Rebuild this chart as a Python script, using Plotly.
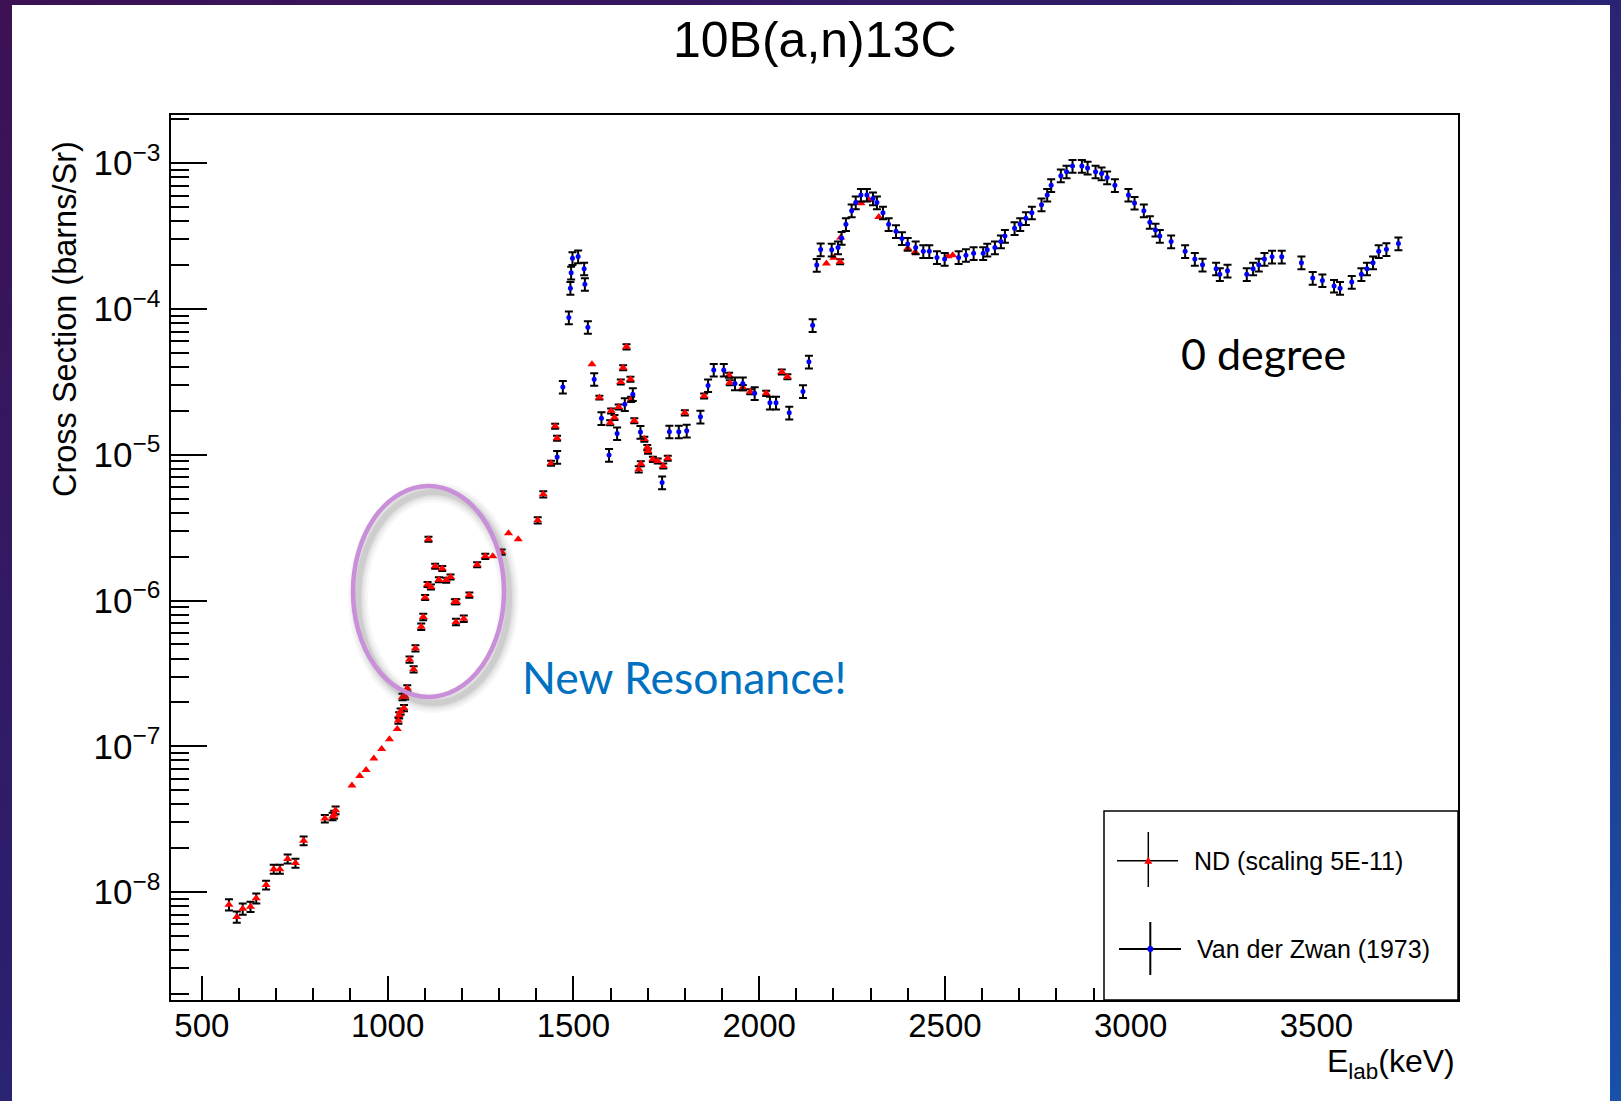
import base64
import numpy as np
import plotly.graph_objects as go

# ---------------------------------------------------------------------------
# 10B(a,n)13C, 0 degree cross section
# ---------------------------------------------------------------------------

# ND measurement (scaled by 5E-11): lab energy [keV], cross section [b/sr],
# relative uncertainty [%] (0 = error smaller than the marker)
nd_energy = [
    573, 594, 610, 631, 646.5, 673, 693.5, 710, 731, 752, 774,
    831, 852, 856, 860, 904, 925, 942, 963, 984, 1005, 1026,
    1029, 1031, 1035, 1044, 1040, 1047, 1053, 1059, 1070, 1075,
    1090.5, 1096, 1101, 1107.5, 1110, 1116.6, 1128, 1138, 1147,
    1157.7, 1169.4, 1181, 1185, 1184, 1205, 1220, 1241, 1263,
    1283, 1307, 1325.5, 1351.5, 1404, 1419, 1440, 1451, 1456,
    1550, 1570, 1599, 1601.6, 1610.6, 1622, 1627.6, 1634, 1643,
    1653.6, 1655.5, 1664, 1676, 1681.5, 1691, 1699, 1701, 1714,
    1727, 1742, 1754, 1800, 1852, 1919, 1921, 1956, 1976, 2019,
    2061, 2076, 2181, 2201, 2218, 2219.5, 2274, 2296, 2322, 2400,
    2420, 2508, 2521,
]
nd_xsec = [
    8.19e-9, 6.75e-9, 7.66e-9, 7.93e-9, 9.06e-9, 1.117e-8, 1.435e-8,
    1.435e-8, 1.687e-8, 1.58e-8, 2.25e-8,
    3.19e-8, 3.30e-8, 3.40e-8, 3.64e-8, 5.37e-8, 6.24e-8, 6.86e-8,
    8.24e-8, 9.58e-8, 1.117e-7, 1.312e-7,
    1.50e-7, 1.63e-7, 1.73e-7, 1.83e-7, 2.18e-7, 2.20e-7, 2.50e-7,
    3.93e-7, 3.37e-7, 4.70e-7,
    6.61e-7, 7.71e-7, 1.05e-6, 1.29e-6, 2.63e-6, 1.24e-6, 1.72e-6,
    1.39e-6, 1.66e-6,
    1.38e-6, 1.45e-6, 9.82e-7, 9.82e-7, 7.13e-7, 7.50e-7, 1.09e-6,
    1.76e-6, 2.01e-6,
    2.01e-6, 2.15e-6, 2.89e-6, 2.63e-6, 3.55e-6, 5.36e-6, 8.74e-6,
    1.57e-5, 1.30e-5,
    4.18e-5, 2.47e-5, 1.66e-5, 2.00e-5, 1.80e-5, 2.13e-5, 3.16e-5,
    3.96e-5, 5.50e-5,
    3.30e-5, 2.40e-5, 1.71e-5, 7.94e-6, 8.69e-6, 1.28e-5, 1.12e-5,
    1.06e-5, 9.30e-6,
    9.06e-6, 8.37e-6, 9.46e-6, 1.94e-5, 2.53e-5, 3.51e-5, 3.12e-5,
    2.89e-5, 2.71e-5, 2.64e-5,
    3.70e-5, 3.43e-5, 2.05e-4, 2.25e-4, 2.11e-4, 3.09e-4, 5.31e-4,
    5.60e-4, 4.28e-4, 2.61e-4,
    2.46e-4, 2.30e-4, 2.34e-4,
]
nd_err_pct = [
    9, 9, 9, 8, 8, 7, 7, 7, 7, 7, 7,
    6, 6, 6, 6, 0, 0, 0, 0, 0, 0, 0,
    5, 5, 5, 5, 5, 5, 5, 5, 5, 5,
    5, 5, 4, 4, 4, 4, 4, 4, 4,
    4, 4, 4, 4, 5, 5, 4, 4, 4,
    0, 4, 0, 0, 5, 5, 4, 4, 4,
    0, 3, 4, 4, 4, 4, 4, 4, 4,
    4, 4, 4, 5, 4, 4, 4, 4, 4,
    4, 4, 4, 4, 4, 4, 4, 4, 4, 4,
    4, 4, 0, 0, 4, 0, 0, 0, 0, 0,
    0, 0, 0,
]

# Van der Zwan (1973): lab energy [keV], cross section [b/sr]
vdz_energy = [
    1456.3, 1471.7, 1487.8, 1492, 1494, 1497.6, 1512.8, 1529, 1531,
    1539, 1556, 1575.6, 1596, 1617.7, 1638.4, 1660, 1680.5, 1738.8,
    1758.4, 1783.7, 1805, 1842, 1862.6, 1877.8, 1904.8, 1935, 1956,
    1988, 2029, 2045.5, 2081, 2118, 2134, 2144, 2155, 2165.6, 2195.3,
    2212.3, 2222, 2233.6, 2249, 2260, 2274, 2290, 2306.4, 2317,
    2333.3, 2348.6, 2368.3, 2384.4, 2399.8, 2421.3, 2441.8, 2458,
    2478.6, 2499.3, 2537, 2556.6, 2577.3, 2603, 2614, 2634.6, 2650.7,
    2661.5, 2687.5, 2702.7, 2718, 2734, 2760, 2775.3, 2786, 2812,
    2827.4, 2843.5, 2868.6, 2884, 2905.5, 2921.7, 2936.7, 2957.5,
    2994, 3010.4, 3035.4, 3051.6, 3066.8, 3078.4, 3108.9, 3146.6,
    3172.7, 3193.4, 3230, 3240, 3260.6, 3312.5, 3329.5, 3344.8, 3360,
    3380.5, 3406.6, 3459.6, 3490, 3516, 3547.4, 3563.5, 3595, 3621,
    3636, 3652.3, 3667.6, 3688.3, 3720.6,
]
vdz_xsec = [
    9.65e-6, 2.92e-5, 8.73e-5, 1.39e-4, 1.77e-4, 2.23e-4, 2.29e-4, 1.89e-4,
    1.48e-4,
    7.50e-5, 3.30e-5, 1.78e-5, 9.95e-6, 1.40e-5, 2.22e-5, 2.60e-5, 1.43e-5,
    6.44e-6,
    1.44e-5, 1.44e-5, 1.46e-5, 1.82e-5, 2.99e-5, 3.82e-5, 3.82e-5, 3.08e-5,
    3.08e-5,
    2.64e-5, 2.27e-5, 2.27e-5, 1.94e-5, 2.72e-5, 4.34e-5, 7.73e-5, 2.00e-4,
    2.56e-4, 2.55e-4,
    2.64e-4, 3.07e-4, 3.81e-4, 4.73e-4, 5.37e-4, 6.06e-4, 6.06e-4, 5.72e-4,
    5.37e-4,
    4.58e-4, 3.81e-4, 3.41e-4, 3.05e-4, 2.79e-4, 2.64e-4, 2.49e-4, 2.49e-4,
    2.26e-4, 2.20e-4, 2.26e-4, 2.34e-4, 2.41e-4, 2.41e-4, 2.55e-4, 2.64e-4,
    2.90e-4,
    3.17e-4, 3.58e-4, 3.81e-4, 4.19e-4, 4.58e-4, 5.20e-4, 6.06e-4, 7.06e-4,
    8.22e-4,
    8.75e-4, 9.58e-4, 9.58e-4, 9.29e-4, 8.75e-4, 8.49e-4, 7.97e-4, 7.06e-4,
    6.06e-4, 5.34e-4, 4.73e-4, 3.94e-4, 3.49e-4, 3.17e-4, 2.90e-4, 2.49e-4,
    2.20e-4, 2.01e-4, 1.89e-4, 1.73e-4, 1.83e-4, 1.73e-4, 1.89e-4, 2.01e-4,
    2.20e-4,
    2.28e-4, 2.28e-4, 2.08e-4, 1.63e-4, 1.57e-4, 1.44e-4, 1.39e-4, 1.53e-4,
    1.73e-4,
    1.89e-4, 2.08e-4, 2.49e-4, 2.57e-4, 2.81e-4,
]
vdz_err_pct = 10.0

x_ticks = [500, 1000, 1500, 2000, 2500, 3000, 3500]
x_range = [417, 3881]
y_log_range = [-8.741, -2.669]

# ---------------------------------------------------------------------------
# page geometry (pixels)
W, H = 1621, 1101
ML, MR, MT, MB = 171, 163, 115, 101
PW, PH = W - ML - MR, H - MT - MB


def fx(px):
    """page x pixel -> plot-area paper fraction"""
    return (px - ML) / PW


def fy(py):
    """page y pixel -> plot-area paper fraction"""
    return (MT + PH - py) / PH


HELV = "Liberation Sans, Arial, Helvetica, sans-serif"
SLIDE = "Lato, Carlito, Calibri, sans-serif"

nd_e = np.asarray(nd_energy, float)
nd_v = np.asarray(nd_xsec, float)
nd_p = np.asarray(nd_err_pct, float)
vdz_e = np.asarray(vdz_energy, float)
vdz_v = np.asarray(vdz_xsec, float)

fig = go.Figure()

err_style = dict(type="data", color="black", thickness=2, width=4)

# ND points: with and without visible uncertainty
has_err = nd_p > 0
fig.add_trace(go.Scatter(
    x=nd_e[has_err], y=nd_v[has_err], mode="markers",
    marker=dict(symbol="triangle-up", size=8, color="#ff0000"),
    error_y=dict(array=nd_v[has_err] * nd_p[has_err] / 100.0, **err_style),
    name="ND (scaling 5E-11)", showlegend=False,
))
fig.add_trace(go.Scatter(
    x=nd_e[~has_err], y=nd_v[~has_err], mode="markers",
    marker=dict(symbol="triangle-up", size=8, color="#ff0000"),
    name="ND (scaling 5E-11)", showlegend=False,
))
# Van der Zwan points
fig.add_trace(go.Scatter(
    x=vdz_e, y=vdz_v, mode="markers",
    marker=dict(symbol="circle", size=5, color="#0000ff"),
    error_y=dict(array=vdz_v * vdz_err_pct / 100.0, **err_style),
    name="Van der Zwan (1973)", showlegend=False,
))

# slide background gradient
svg = (
    f"<svg xmlns='http://www.w3.org/2000/svg' width='{W}' height='{H}'>"
    "<defs><linearGradient id='g' x1='0' y1='0' x2='1' y2='1'>"
    "<stop offset='0' stop-color='#3d1154'/>"
    "<stop offset='0.45' stop-color='#2c1f6e'/>"
    "<stop offset='1' stop-color='#1850aa'/>"
    "</linearGradient></defs>"
    f"<rect width='{W}' height='{H}' fill='url(#g)'/></svg>"
)
bg_src = "data:image/svg+xml;base64," + base64.b64encode(svg.encode()).decode()

shapes = []
# white canvas of the ROOT picture
shapes.append(dict(type="rect", xref="paper", yref="paper", layer="below",
                   x0=fx(12), x1=fx(1610), y0=fy(H + 2), y1=fy(5),
                   fillcolor="white", line=dict(width=0)))

# highlight ellipse with a soft drop shadow
ecx, ecy, erx, ery = 428.5, 591.5, 75.5, 105.5
for lw, op in [(20, 0.04), (15, 0.06), (10, 0.08), (6, 0.10)]:
    shapes.append(dict(type="circle", xref="paper", yref="paper", layer="above",
                       x0=fx(ecx - erx + 5), x1=fx(ecx + erx + 5),
                       y0=fy(ecy + ery + 6), y1=fy(ecy - ery + 6),
                       line=dict(color="rgba(60,60,60,%.3f)" % op, width=lw)))
shapes.append(dict(type="circle", xref="paper", yref="paper", layer="above",
                   x0=fx(ecx - erx), x1=fx(ecx + erx),
                   y0=fy(ecy + ery), y1=fy(ecy - ery),
                   line=dict(color="#c98fd8", width=4.5)))

# legend box
shapes.append(dict(type="rect", xref="paper", yref="paper", layer="above",
                   x0=fx(1104), x1=fx(1458), y0=fy(1000), y1=fy(811),
                   fillcolor="white", line=dict(color="black", width=1.5)))
# legend entries: error cross + marker
for (cx, cy, hx0, hx1, vy0, vy1, lw) in [
    (1148.3, 860.7, 1117, 1178, 832, 887, 1.5),
    (1150.3, 949.0, 1119, 1181, 922, 975, 2.0),
]:
    shapes.append(dict(type="line", xref="paper", yref="paper", layer="above",
                       x0=fx(hx0), x1=fx(hx1), y0=fy(cy), y1=fy(cy),
                       line=dict(color="black", width=lw)))
    shapes.append(dict(type="line", xref="paper", yref="paper", layer="above",
                       x0=fx(cx), x1=fx(cx), y0=fy(vy0), y1=fy(vy1),
                       line=dict(color="black", width=lw)))
shapes.append(dict(type="path", xref="paper", yref="paper", layer="above",
                   xsizemode="pixel", ysizemode="pixel",
                   xanchor=fx(1148.3), yanchor=fy(860.7),
                   path="M-4,-3 L4,-3 L0,4 Z",
                   fillcolor="#ff0000", line=dict(width=0)))
shapes.append(dict(type="circle", xref="paper", yref="paper", layer="above",
                   xsizemode="pixel", ysizemode="pixel",
                   xanchor=fx(1150.3), yanchor=fy(949.0),
                   x0=-3, x1=3, y0=-3, y1=3,
                   fillcolor="#0000ff", line=dict(width=0)))

annotations = [
    dict(text="10B(a,n)13C", x=0.5, y=fy(40), xref="paper", yref="paper",
         xanchor="center", yanchor="middle", showarrow=False,
         font=dict(family=HELV, size=50, color="black")),
    dict(text="Cross Section (barns/Sr)", x=fx(65), y=fy(319),
         xref="paper", yref="paper", xanchor="center", yanchor="middle",
         textangle=-90, showarrow=False,
         font=dict(family=HELV, size=32.5, color="black")),
    dict(text="E<sub>lab</sub>(keV)", x=fx(1457), y=fy(1063),
         xref="paper", yref="paper", xanchor="right", yanchor="middle",
         showarrow=False, font=dict(family=HELV, size=32, color="black")),
    dict(text="ND (scaling 5E-11)", x=fx(1192), y=fy(860.7),
         xref="paper", yref="paper", xanchor="left", yanchor="middle",
         showarrow=False, font=dict(family=HELV, size=25, color="black")),
    dict(text="Van der Zwan (1973)", x=fx(1195), y=fy(949),
         xref="paper", yref="paper", xanchor="left", yanchor="middle",
         showarrow=False, font=dict(family=HELV, size=25, color="black")),
    dict(text="0 degree", x=fx(1263), y=fy(353),
         xref="paper", yref="paper", xanchor="center", yanchor="middle",
         showarrow=False, font=dict(family=SLIDE, size=43, color="black")),
    dict(text="New Resonance!", x=fx(684.5), y=fy(676),
         xref="paper", yref="paper", xanchor="center", yanchor="middle",
         showarrow=False, font=dict(family=SLIDE, size=44.5, color="#0070c0")),
]

fig.update_layout(
    width=W, height=H,
    margin=dict(l=ML, r=MR, t=MT, b=MB, autoexpand=False),
    paper_bgcolor="#2a1f6a", plot_bgcolor="white",
    showlegend=False,
    images=[dict(source=bg_src, xref="paper", yref="paper",
                 x=fx(0), y=fy(0), sizex=W / PW, sizey=H / PH,
                 xanchor="left", yanchor="top", sizing="stretch",
                 layer="below")],
    shapes=shapes,
    annotations=annotations,
    xaxis=dict(
        range=x_range, tickvals=x_ticks, ticktext=[str(v) for v in x_ticks],
        showgrid=False, zeroline=False,
        showline=True, linecolor="black", linewidth=2, mirror=True,
        ticks="inside", ticklen=24, tickwidth=1.5, tickcolor="black",
        minor=dict(dtick=100, tick0=0, ticks="inside", ticklen=12,
                   tickwidth=1.5, tickcolor="black", showgrid=False),
        tickfont=dict(family=HELV, size=33, color="black"),
        ticklabelstandoff=-5,
    ),
    yaxis=dict(
        type="log", range=y_log_range, dtick=1, exponentformat="power",
        showexponent="all", showgrid=False, zeroline=False,
        showline=True, linecolor="black", linewidth=2, mirror=True,
        ticks="inside", ticklen=36, tickwidth=1.5, tickcolor="black",
        minor=dict(dtick="D1", ticks="inside", ticklen=18,
                   tickwidth=1.5, tickcolor="black", showgrid=False),
        tickfont=dict(family=HELV, size=28, color="black"),
        ticklabelstandoff=3,
    ),
)

fig.write_html("out.html", config={"displayModeBar": False})
